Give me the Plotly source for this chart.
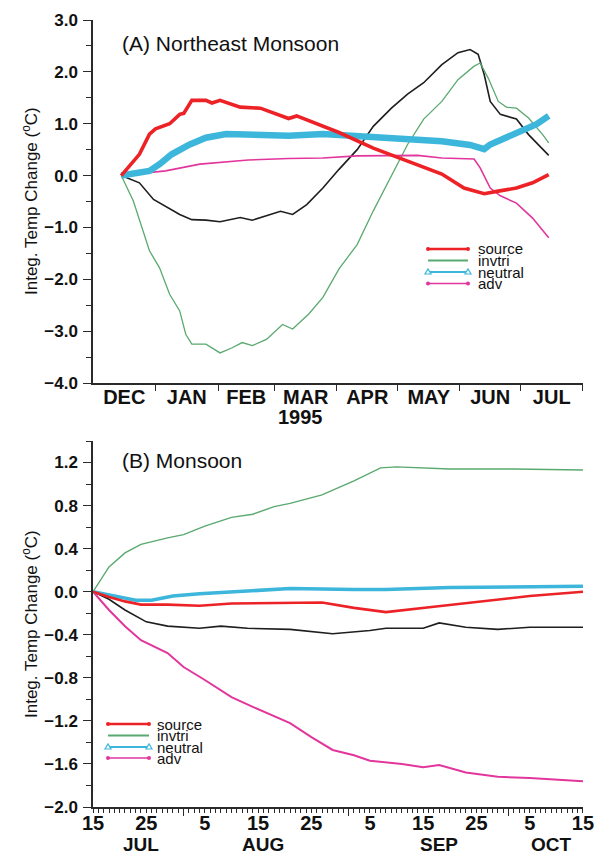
import pandas as pd
import plotly.graph_objects as go

# ---------------- Panel A: Northeast Monsoon (Dec 1994 - Jul 1995) ----------------
a_source_dates = ["1994-12-15", "1994-12-24", "1994-12-29", "1995-01-01", "1995-01-08", "1995-01-13",
                  "1995-01-15", "1995-01-19", "1995-01-26", "1995-01-29", "1995-02-02", "1995-02-12",
                  "1995-02-22", "1995-03-04", "1995-03-08", "1995-03-12", "1995-04-02", "1995-04-19",
                  "1995-05-06", "1995-05-23", "1995-06-03", "1995-06-13", "1995-06-20", "1995-06-29",
                  "1995-07-07", "1995-07-15"]
a_source = [0.0, 0.41, 0.80, 0.90, 1.00, 1.18, 1.20, 1.45, 1.45, 1.40, 1.45, 1.32,
            1.30, 1.15, 1.10, 1.15, 0.83, 0.53, 0.28, 0.03, -0.24, -0.35, -0.30, -0.24,
            -0.14, 0.02]

a_invtri_dates = ["1994-12-15", "1994-12-21", "1994-12-29", "1995-01-03", "1995-01-08", "1995-01-13",
                  "1995-01-16", "1995-01-19", "1995-01-26", "1995-02-02", "1995-02-08", "1995-02-13",
                  "1995-02-18", "1995-02-25", "1995-03-05", "1995-03-10", "1995-03-18", "1995-03-25",
                  "1995-04-02", "1995-04-11", "1995-04-19", "1995-04-28", "1995-05-06", "1995-05-14",
                  "1995-05-23", "1995-05-31", "1995-06-08", "1995-06-11", "1995-06-15", "1995-06-20",
                  "1995-06-24", "1995-06-29", "1995-07-05", "1995-07-12", "1995-07-15"]
a_invtri = [0.0, -0.49, -1.45, -1.78, -2.29, -2.61, -3.06, -3.25, -3.25, -3.42, -3.32, -3.22,
            -3.28, -3.16, -2.87, -2.96, -2.67, -2.35, -1.80, -1.33, -0.68, -0.01, 0.60, 1.09,
            1.43, 1.85, 2.11, 2.17, 1.88, 1.43, 1.32, 1.30, 1.11, 0.79, 0.63]

a_neutral_dates = ["1994-12-15", "1994-12-21", "1994-12-29", "1995-01-03", "1995-01-09", "1995-01-18",
                   "1995-01-26", "1995-02-05", "1995-02-16", "1995-02-28", "1995-03-08", "1995-03-25",
                   "1995-04-28", "1995-05-23", "1995-06-06", "1995-06-13", "1995-06-16", "1995-06-24",
                   "1995-07-02", "1995-07-09", "1995-07-15"]
a_neutral = [0.0, 0.03, 0.09, 0.22, 0.41, 0.60, 0.73, 0.80, 0.79, 0.80, 0.77, 0.80,
             0.73, 0.66, 0.59, 0.51, 0.60, 0.73, 0.86, 0.99, 1.15]

a_adv_dates = ["1994-12-15", "1995-01-06", "1995-01-23", "1995-02-16", "1995-03-08", "1995-03-25",
               "1995-04-11", "1995-05-11", "1995-05-23", "1995-06-08", "1995-06-11", "1995-06-16",
               "1995-06-21", "1995-06-29", "1995-07-07", "1995-07-15"]
a_adv = [0.0, 0.09, 0.22, 0.30, 0.33, 0.34, 0.38, 0.39, 0.34, 0.32, 0.15, -0.24,
         -0.39, -0.53, -0.82, -1.20]

a_net_dates = ["1994-12-15", "1994-12-24", "1994-12-31", "1995-01-06", "1995-01-13", "1995-01-19",
               "1995-01-26", "1995-02-02", "1995-02-12", "1995-02-18", "1995-02-25", "1995-03-04",
               "1995-03-10", "1995-03-17", "1995-03-25", "1995-04-02", "1995-04-11", "1995-04-19",
               "1995-04-28", "1995-05-06", "1995-05-14", "1995-05-23", "1995-05-31", "1995-06-06",
               "1995-06-10", "1995-06-13", "1995-06-16", "1995-06-21", "1995-06-29", "1995-07-05",
               "1995-07-15"]
a_net = [0.0, -0.14, -0.46, -0.59, -0.75, -0.85, -0.86, -0.89, -0.81, -0.86, -0.78, -0.69,
         -0.75, -0.56, -0.24, 0.12, 0.50, 0.95, 1.30, 1.57, 1.79, 2.14, 2.37, 2.43,
         2.34, 1.95, 1.43, 1.18, 1.09, 0.79, 0.39]

a_month_labels = ["DEC", "JAN", "FEB", "MAR", "APR", "MAY", "JUN", "JUL"]
a_month_starts = ["1994-12-01", "1995-01-01", "1995-02-01", "1995-03-01", "1995-04-01",
                  "1995-05-01", "1995-06-01", "1995-07-01", "1995-08-01"]

# ---------------- Panel B: Monsoon (Jul - Oct 1995) ----------------
b_source_dates = ["1995-07-15", "1995-07-18", "1995-07-21", "1995-07-24", "1995-07-29", "1995-08-04",
                  "1995-08-10", "1995-08-21", "1995-08-27", "1995-09-02", "1995-09-08", "1995-09-17",
                  "1995-09-26", "1995-10-05", "1995-10-15"]
b_source = [0.0, -0.05, -0.09, -0.12, -0.12, -0.13, -0.11, -0.10, -0.10, -0.15, -0.19, -0.14,
            -0.09, -0.04, 0.0]

b_invtri_dates = ["1995-07-15", "1995-07-18", "1995-07-21", "1995-07-24", "1995-07-29", "1995-08-01",
                  "1995-08-05", "1995-08-10", "1995-08-14", "1995-08-18", "1995-08-21", "1995-08-27",
                  "1995-09-02", "1995-09-07", "1995-09-10", "1995-09-20", "1995-10-02", "1995-10-15"]
b_invtri = [0.0, 0.23, 0.36, 0.44, 0.50, 0.53, 0.61, 0.69, 0.72, 0.79, 0.82, 0.90,
            1.03, 1.15, 1.16, 1.14, 1.14, 1.13]

b_neutral_dates = ["1995-07-15", "1995-07-18", "1995-07-23", "1995-07-26", "1995-07-30", "1995-08-04",
                   "1995-08-10", "1995-08-21", "1995-09-02", "1995-09-08", "1995-09-20", "1995-10-15"]
b_neutral = [0.0, -0.03, -0.08, -0.08, -0.04, -0.02, 0.0, 0.03, 0.02, 0.02, 0.04, 0.05]

b_adv_dates = ["1995-07-15", "1995-07-18", "1995-07-21", "1995-07-24", "1995-07-29", "1995-08-01",
               "1995-08-05", "1995-08-10", "1995-08-14", "1995-08-18", "1995-08-21", "1995-08-25",
               "1995-08-29", "1995-09-02", "1995-09-05", "1995-09-11", "1995-09-15", "1995-09-18",
               "1995-09-23", "1995-09-29", "1995-10-05", "1995-10-15"]
b_adv = [0.0, -0.17, -0.32, -0.45, -0.57, -0.70, -0.82, -0.98, -1.07, -1.16, -1.22, -1.35,
         -1.47, -1.52, -1.57, -1.60, -1.63, -1.61, -1.68, -1.72, -1.73, -1.76]

b_net_dates = ["1995-07-15", "1995-07-18", "1995-07-21", "1995-07-25", "1995-07-29", "1995-08-04",
               "1995-08-08", "1995-08-13", "1995-08-21", "1995-08-29", "1995-09-05", "1995-09-08",
               "1995-09-15", "1995-09-18", "1995-09-23", "1995-09-29", "1995-10-05", "1995-10-15"]
b_net = [0.0, -0.07, -0.17, -0.28, -0.32, -0.34, -0.32, -0.34, -0.35, -0.39, -0.36, -0.34,
         -0.34, -0.29, -0.33, -0.35, -0.33, -0.33]

b_tick_dates = ["1995-07-15", "1995-07-25", "1995-08-05", "1995-08-15", "1995-08-25",
                "1995-09-05", "1995-09-15", "1995-09-25", "1995-10-05", "1995-10-15"]
b_tick_labels = ["15", "25", "5", "15", "25", "5", "15", "25", "5", "15"]
b_month_starts = ["1995-08-01", "1995-09-01", "1995-10-01"]
b_month_labels = ["JUL", "AUG", "SEP", "OCT"]
b_month_label_dates = ["1995-07-24", "1995-08-16", "1995-09-18", "1995-10-09"]

legend_names = ["source", "invtri", "neutral", "adv"]

# ---------------- styling ----------------
RED = "#ec2227"
GREEN = "#5aa96f"
CYAN = "#3db6db"
MAGENTA = "#e2369c"
BLACK = "#1e1e1e"
AXIS = "#2a2a2a"
FONT = "Liberation Sans, Arial, sans-serif"

W, H = 594, 855
ML, MR, MT, MB = 93, 11, 20, 48
PW, PH = W - ML - MR, H - MT - MB


def px_x(x):
    return (x - ML) / PW


def px_y(y):
    return (H - MB - y) / PH


fig = go.Figure()

panel_a = [
    (a_net_dates, a_net, BLACK, 1.6, None),
    (a_invtri_dates, a_invtri, GREEN, 1.3, "invtri"),
    (a_adv_dates, a_adv, MAGENTA, 1.6, "adv"),
    (a_neutral_dates, a_neutral, CYAN, 6.5, "neutral"),
    (a_source_dates, a_source, RED, 3.6, "source"),
]
for d, v, c, w, n in panel_a:
    fig.add_trace(go.Scatter(x=pd.to_datetime(d), y=v, mode="lines", name=n or "net",
                             line=dict(color=c, width=w),
                             showlegend=False, xaxis="x", yaxis="y", hoverinfo="skip"))

panel_b = [
    (b_net_dates, b_net, BLACK, 1.6, None),
    (b_invtri_dates, b_invtri, GREEN, 1.4, "invtri"),
    (b_adv_dates, b_adv, MAGENTA, 2.0, "adv"),
    (b_neutral_dates, b_neutral, CYAN, 3.5, "neutral"),
    (b_source_dates, b_source, RED, 2.6, "source"),
]
for d, v, c, w, n in panel_b:
    fig.add_trace(go.Scatter(x=pd.to_datetime(d), y=v, mode="lines", name=n or "net",
                             line=dict(color=c, width=w),
                             showlegend=False, xaxis="x2", yaxis="y2", hoverinfo="skip"))

# month labels for panel A sit mid-month; ticks mark the month boundaries
starts = pd.to_datetime(a_month_starts)
mids = [starts[i] + (starts[i + 1] - starts[i]) / 2 for i in range(len(starts) - 1)]

# empty carrier traces so the overlay tick axes get drawn
for xa, ya, xs in (("x4", "y", mids), ("x3", "y2", pd.to_datetime(b_month_starts)),
                   ("x5", "y2", pd.to_datetime(b_tick_dates))):
    fig.add_trace(go.Scatter(x=xs, y=[None] * len(xs), mode="markers", showlegend=False,
                             xaxis=xa, yaxis=ya, hoverinfo="skip", marker=dict(opacity=0)))

tick_font_y = dict(family=FONT, size=17, color="#111", weight="bold")
tick_font_x = dict(family=FONT, size=20, color="#111", weight="bold")
plain = dict(showgrid=False, zeroline=False, automargin=False)
# a few minutes of slack so the end-of-range ticks are kept
slack = pd.Timedelta(minutes=5)
a_range = [starts[0] - slack, starts[-1] + slack]
b_range = [pd.Timestamp(b_tick_dates[0]) - slack, pd.Timestamp(b_tick_dates[-1]) + slack]

fig.update_layout(
    width=W, height=H, autosize=False,
    margin=dict(l=ML, r=MR, t=MT, b=MB),
    paper_bgcolor="white", plot_bgcolor="white",
    showlegend=False,
    # panel A: month-boundary ticks on the main axis, labels on an overlay axis
    xaxis=dict(domain=[0, 1], anchor="y", type="date", range=a_range,
               tickmode="array", tickvals=starts[1:], showticklabels=False,
               ticks="outside", ticklen=6, tickwidth=1.3, tickcolor=AXIS,
               showline=True, linecolor=AXIS, linewidth=1.5, **plain),
    xaxis4=dict(overlaying="x", anchor="y", type="date", range=a_range,
                tickmode="array", tickvals=mids, ticktext=a_month_labels,
                ticks="", ticklen=0, ticklabelstandoff=0, tickfont=tick_font_x,
                showline=False, **plain),
    yaxis=dict(domain=[px_y(383), 1], anchor="x", range=[-4, 3],
               tickmode="linear", tick0=0, dtick=1, tickformat=".1f",
               ticks="outside", ticklen=8, tickwidth=1.3, tickcolor=AXIS,
               tickfont=tick_font_y, ticklabelstandoff=2,
               minor=dict(tickmode="linear", tick0=0.5, dtick=1, ticks="outside",
                          ticklen=5, tickwidth=1.3, tickcolor=AXIS),
               showline=True, linecolor=AXIS, linewidth=1.5, **plain),
    # panel B: daily ticks, longer month ticks, and day-of-month labels
    xaxis2=dict(domain=[0, 1], anchor="y2", type="date", range=b_range,
                tickmode="linear", tick0=b_tick_dates[0], dtick=86400000,
                showticklabels=False,
                ticks="outside", ticklen=4, tickwidth=1, tickcolor=AXIS,
                showline=True, linecolor=AXIS, linewidth=1.5, **plain),
    xaxis3=dict(overlaying="x2", anchor="y2", type="date", range=b_range,
                tickmode="array", tickvals=pd.to_datetime(b_month_starts),
                ticks="outside", ticklen=8, tickwidth=1.3, tickcolor=AXIS,
                showticklabels=False, showline=False, **plain),
    xaxis5=dict(overlaying="x2", anchor="y2", type="date", range=b_range,
                tickmode="array", tickvals=pd.to_datetime(b_tick_dates), ticktext=b_tick_labels,
                ticks="", ticklen=0, ticklabelstandoff=2, tickfont=tick_font_x,
                ticklabeloverflow="allow",
                showline=False, **plain),
    yaxis2=dict(domain=[0, px_y(441)], anchor="x2", range=[-2.0, 1.4],
                tickmode="array", tickvals=[-2.0, -1.6, -1.2, -0.8, -0.4, 0.0, 0.4, 0.8, 1.2],
                tickformat=".1f",
                ticks="outside", ticklen=8, tickwidth=1.3, tickcolor=AXIS,
                tickfont=tick_font_y, ticklabelstandoff=2,
                minor=dict(tickmode="array", tickvals=[-1.8, -1.4, -1.0, -0.6, -0.2, 0.2, 0.6, 1.0, 1.4],
                           ticks="outside", ticklen=5, tickwidth=1.3, tickcolor=AXIS),
                showline=True, linecolor=AXIS, linewidth=1.5, **plain),
)

ann = []
shapes = []

# panel titles
ann.append(dict(text="(A) Northeast Monsoon", x=px_x(120), y=px_y(43), xref="paper", yref="paper",
                xanchor="left", yanchor="middle", showarrow=False,
                font=dict(family=FONT, size=21, color="#111")))
ann.append(dict(text="(B) Monsoon", x=px_x(120), y=px_y(460), xref="paper", yref="paper",
                xanchor="left", yanchor="middle", showarrow=False,
                font=dict(family=FONT, size=21, color="#111")))

# y-axis titles
for yc in (px_y(201), px_y(624)):
    ann.append(dict(text="Integ. Temp Change (<sup>o</sup>C)", x=px_x(30), y=yc,
                    xref="paper", yref="paper", textangle=-90, showarrow=False,
                    xanchor="center", yanchor="middle",
                    font=dict(family=FONT, size=17, color="#111")))

# year under panel A, month names under panel B
ann.append(dict(text="1995", x="1995-03-14", y=px_y(417), xref="x", yref="paper",
                xanchor="center", yanchor="middle", showarrow=False, font=tick_font_x))
for lab, d in zip(b_month_labels, b_month_label_dates):
    ann.append(dict(text=lab, x=d, y=px_y(845), xref="x2", yref="paper",
                    xanchor="center", yanchor="middle", showarrow=False,
                    font=dict(family=FONT, size=19, color="#111", weight="bold")))

# compact legends
legend_styles = {"source": (RED, 2.6, "dot"), "invtri": (GREEN, 2.0, None),
                 "neutral": (CYAN, 2.0, "tri"), "adv": (MAGENTA, 1.6, "dot")}


def add_legend(x0, x1, xt, rows):
    for name, yr in zip(legend_names, rows):
        c, w, m = legend_styles[name]
        yy = px_y(yr)
        shapes.append(dict(type="line", xref="paper", yref="paper", x0=px_x(x0), x1=px_x(x1),
                           y0=yy, y1=yy, line=dict(color=c, width=w)))
        for xe in (x0, x1):
            if m == "dot":
                shapes.append(dict(type="circle", xref="paper", yref="paper",
                                   xsizemode="pixel", ysizemode="pixel",
                                   xanchor=px_x(xe), yanchor=yy, x0=-2, x1=2, y0=-2, y1=2,
                                   fillcolor=c, line=dict(color=c, width=0)))
            elif m == "tri":
                shapes.append(dict(type="path", xref="paper", yref="paper",
                                   xsizemode="pixel", ysizemode="pixel",
                                   xanchor=px_x(xe), yanchor=yy,
                                   path="M -3,-2 L 3,-2 L 0,3 Z",
                                   fillcolor="white", line=dict(color=c, width=1.2)))
        ann.append(dict(text=name, x=px_x(xt), y=yy, xref="paper", yref="paper",
                        xanchor="left", yanchor="middle", showarrow=False, height=11,
                        font=dict(family=FONT, size=15, color="#111")))


add_legend(428, 468, 476, [249, 260.5, 272, 283.5])
add_legend(108, 149, 155, [724, 735.5, 747, 758])

fig.update_layout(annotations=ann, shapes=shapes)

fig.write_html("out.html")
